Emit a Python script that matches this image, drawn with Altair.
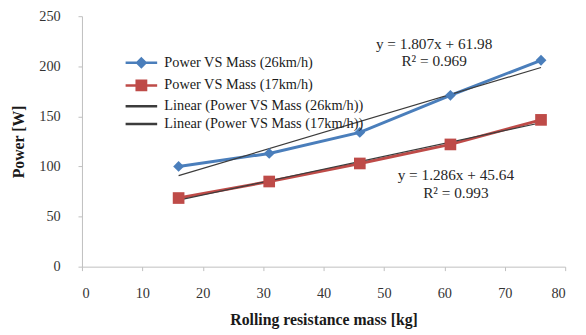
import altair as alt
import pandas as pd

# ---- data ----
mass = [16, 31, 46, 61, 76]
power_26 = [100, 113, 134, 171, 206]
power_17 = [68.5, 85, 103, 122, 146.5]
series_names = ["Power VS Mass (26km/h)", "Power VS Mass (17km/h)"]
trend_names = ["Linear (Power VS Mass (26km/h))", "Linear (Power VS Mass (17km/h))"]
eq_26 = ["y = 1.807x + 61.98", "R² = 0.969"]
eq_17 = ["y = 1.286x + 45.64", "R² = 0.993"]
x_ticks = [0, 10, 20, 30, 40, 50, 60, 70, 80]
y_ticks = [0, 50, 100, 150, 200, 250]

FONT = "Liberation Serif"
BLUE = "#4A7EBB"
RED = "#BE4B48"
TREND = "#3C3C3C"

df = pd.DataFrame({
    "mass": mass * 2,
    "power": power_26 + power_17,
    "series": [series_names[0]] * len(mass) + [series_names[1]] * len(mass),
})

x_enc = alt.X("mass:Q", scale=alt.Scale(domain=[0, 80], nice=False),
              axis=alt.Axis(values=x_ticks, title="Rolling resistance mass [kg]",
                            titleX=245, titleY=54, titleBaseline="middle"))
y_enc = alt.Y("power:Q", scale=alt.Scale(domain=[0, 250], nice=False),
              axis=alt.Axis(values=y_ticks, title="Power [W]",
                            titleX=-64, titleY=127, titleBaseline="middle", titleAngle=-90))

base = alt.Chart(df)

lines = base.mark_line(strokeWidth=3).encode(
    x=x_enc, y=y_enc,
    color=alt.Color("series:N", scale=alt.Scale(domain=series_names, range=[BLUE, RED]), legend=None),
)

trend = base.transform_regression("mass", "power", groupby=["series"]).mark_line(
    strokeWidth=1.2, color=TREND
).encode(x="mass:Q", y="power:Q", detail="series:N")

pts_26 = base.transform_filter(alt.datum.series == series_names[0]).mark_point(
    filled=True, shape="diamond", size=120, color=BLUE, opacity=1
).encode(x="mass:Q", y="power:Q")

pts_17 = base.transform_filter(alt.datum.series == series_names[1]).mark_point(
    filled=True, shape="square", size=140, color=RED, opacity=1
).encode(x="mass:Q", y="power:Q")

# legend layer (invisible marks, visible legend)
all_names = series_names + trend_names
legend_df = pd.DataFrame({"name": all_names})
paths = [
    "M-3.2,0H3.2M0,-0.85L0.85,0L0,0.85L-0.85,0Z",
    "M-3.2,0H3.2M-0.95,-0.95H0.95V0.95H-0.95Z",
    "M-3.2,0H3.2",
    "M-3.2,0H3.2",
]
cols = [BLUE, RED, TREND, TREND]
leg = alt.Legend(orient="none", legendX=53, legendY=40, title=None, symbolSize=100,
                 labelFont=FONT, labelFontSize=14.5, labelColor="#1a1a1a", labelOffset=16,
                 rowPadding=3, labelLimit=320, padding=0, symbolOpacity=1)
legend_layer = alt.Chart(legend_df).mark_point(opacity=0, filled=True).encode(
    fill=alt.Fill("name:N", scale=alt.Scale(domain=all_names, range=cols), legend=leg),
    stroke=alt.Stroke("name:N", scale=alt.Scale(domain=all_names, range=cols), legend=leg),
    shape=alt.Shape("name:N", scale=alt.Scale(domain=all_names, range=paths), legend=leg),
    strokeWidth=alt.StrokeWidth("name:N", scale=alt.Scale(domain=all_names, range=[2.5, 2.5, 1, 1]), legend=leg),
)

def eq_text(lines_txt, xv, yv):
    return alt.Chart(pd.DataFrame({"t": [0]})).mark_text(
        font=FONT, fontSize=15.5, color="#262626", align="center", baseline="middle",
        lineHeight=18
    ).encode(x=alt.datum(xv), y=alt.datum(yv), text=alt.value(lines_txt))

txt1 = eq_text(eq_26, 58.3, 222.5)
txt2 = eq_text(eq_17, 61.9, 91.5)

chart = alt.layer(lines, trend, pts_26, pts_17, legend_layer, txt1, txt2).properties(
    width=490, height=254,
    autosize=alt.AutoSizeParams(type="none"),
    padding={"left": 75, "top": 6, "right": 13, "bottom": 67},
).configure_view(stroke=None).configure_axis(
    grid=False, domainColor="#BFBFBF", tickColor="#BFBFBF", tickSize=4,
    labelFont=FONT, labelFontSize=14.5, labelColor="#333333",
    titleFont=FONT, titleFontSize=16, titleFontWeight="bold", titleColor="#1a1a1a",
).configure_axisX(labelPadding=16).configure_axisY(labelPadding=18)

chart.save("out.html", embed_options={"renderer": "svg", "actions": False})
